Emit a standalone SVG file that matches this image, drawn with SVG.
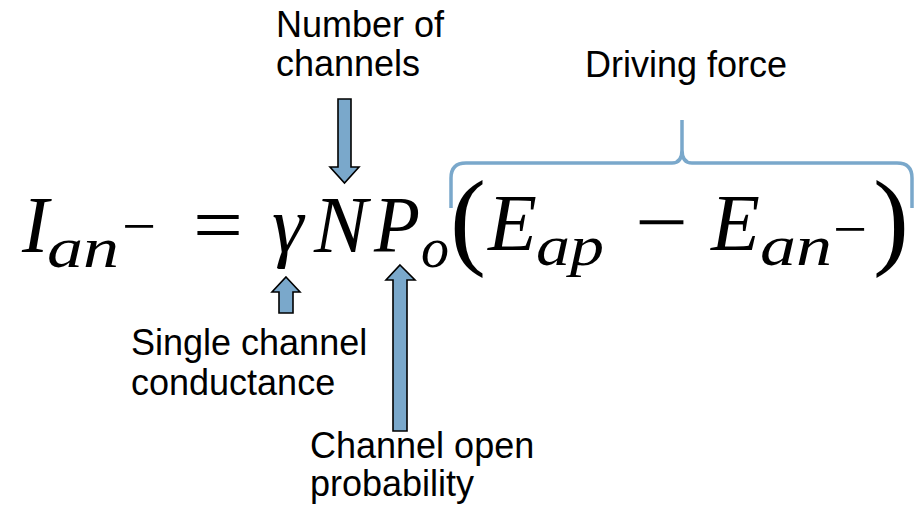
<svg xmlns="http://www.w3.org/2000/svg" width="915" height="510" viewBox="0 0 915 510">
<style>
.lbl{font-family:"Liberation Sans",Arial,sans-serif;font-size:36px;fill:#000}
.m{font-family:"Liberation Serif","Times New Roman",serif;font-style:italic;fill:#000}
.r{font-family:"Liberation Serif","Times New Roman",serif;fill:#000}
.big{font-size:80px}
.sub{font-size:56px}
.arr{fill:#7aa8cb;stroke:#000;stroke-width:1.6;stroke-linejoin:miter}
.brace{fill:none;stroke:#7aa8cb;stroke-width:3.5}
</style>
<rect width="915" height="510" fill="#fff"/>
<g id="equation">
<text class="m big" x="22" y="252">I</text>
<text class="m sub" x="47" y="267" textLength="72" lengthAdjust="spacingAndGlyphs">an</text>
<text class="r sub" x="122" y="245" textLength="34" lengthAdjust="spacingAndGlyphs">−</text>
<text class="r big" x="193" y="252" textLength="50" lengthAdjust="spacingAndGlyphs">=</text>
<text class="m big" x="272" y="252">γ</text>
<text class="m big" x="314" y="252">N</text>
<text class="m big" x="374" y="252" textLength="46" lengthAdjust="spacingAndGlyphs">P</text>
<text class="m sub" x="421" y="267">o</text>
<text class="r" x="450" y="255" font-size="108">(</text>
<text class="m big" x="488" y="250">E</text>
<text class="m sub" x="536" y="265" textLength="68" lengthAdjust="spacingAndGlyphs">ap</text>
<text class="r big" x="635" y="249" textLength="53" lengthAdjust="spacingAndGlyphs">−</text>
<text class="m big" x="711" y="250">E</text>
<text class="m sub" x="760" y="265" textLength="72" lengthAdjust="spacingAndGlyphs">an</text>
<text class="r sub" x="833" y="248" textLength="34" lengthAdjust="spacingAndGlyphs">−</text>
<text class="r" x="873" y="255" font-size="108">)</text>
</g>
<g id="connectors">
<path class="brace" d="M451 208 L451 178 Q451 163 466 163 L672 163 Q682 163 682 150 L682 120 M682 150 Q682 163 692 163 L897 163 Q912 163 912 178 L912 208"/>
<polygon class="arr" points="338,99 351,99 351,167 359,167 344.5,183 330,167 338,167"/>
<polygon class="arr" points="286,277 300,292 293,292 293,313 279,313 279,292 272,292"/>
<polygon class="arr" points="400,265 415,280 407,280 407,431 393,431 393,280 386,280"/>
</g>
<g id="label-number">
<text class="lbl" x="276" y="37">Number of</text>
<text class="lbl" x="276" y="76">channels</text>
</g>
<g id="label-driving">
<text class="lbl" x="585" y="77">Driving force</text>
</g>
<g id="label-single">
<text class="lbl" x="131" y="355">Single channel</text>
<text class="lbl" x="131" y="395">conductance</text>
</g>
<g id="label-open">
<text class="lbl" x="310" y="458">Channel open</text>
<text class="lbl" x="310" y="496">probability</text>
</g>
</svg>
